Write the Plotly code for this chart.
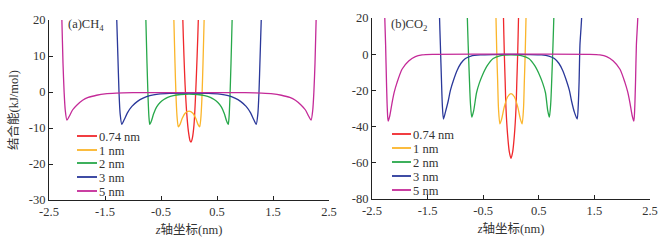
import plotly.graph_objects as go

W, H = 662, 241

# ---------------- data ----------------
series_names = ["0.74 nm", "1 nm", "2 nm", "3 nm", "5 nm"]
series_colors = ["#f0282c", "#fbb52a", "#27a84a", "#2a389a", "#c42a98"]

# (a) CH4 binding energy (kJ/mol) vs z (nm)
ch4_x_074 = [-0.13, -0.11, -0.09, -0.07, -0.04, -0.01, 0.02, 0.036, 0.06, 0.09, 0.12, 0.145, 0.166, 0.19]
ch4_y_074 = [40, 20, 10, 2, -6, -11, -13.6, -13.9, -12.8, -9, 0, 10, 20, 40]

ch4_x_1 = [-0.30, -0.27, -0.25, -0.23, -0.21, -0.19, -0.16, -0.12, -0.07, 0.0,
           0.07, 0.12, 0.16, 0.19, 0.21, 0.23, 0.25, 0.27, 0.30]
ch4_y_1 = [40, 20, 8, -2, -7.5, -9.7, -9.0, -7.3, -5.9, -5.3,
           -5.9, -7.3, -9.0, -9.7, -7.5, -2, 8, 20, 40]

ch4_x_2 = [-0.80, -0.77, -0.75, -0.73, -0.715, -0.70, -0.67, -0.63, -0.58, -0.52, -0.45, -0.38, -0.28, -0.15, 0.0,
           0.15, 0.28, 0.38, 0.45, 0.52, 0.58, 0.63, 0.67, 0.70, 0.715, 0.73, 0.75, 0.77, 0.80]
ch4_y_2 = [40, 20, 8, -2, -7, -9, -8, -6, -4.2, -3.0, -2.1, -1.5, -1.0, -0.7, -0.6,
           -0.7, -1.0, -1.5, -2.1, -3.0, -4.2, -6, -8, -9, -7, -2, 8, 20, 40]

ch4_x_3 = [-1.33, -1.29, -1.27, -1.25, -1.23, -1.20, -1.16, -1.10, -1.02, -0.92, -0.82, -0.70, -0.55, -0.35, 0.0,
           0.35, 0.55, 0.70, 0.82, 0.92, 1.02, 1.10, 1.16, 1.20, 1.23, 1.25, 1.27, 1.29, 1.33]
ch4_y_3 = [40, 20, 10, 0, -6, -9, -7.8, -5.8, -4.0, -2.6, -1.7, -1.0, -0.6, -0.4, -0.3,
           -0.4, -0.6, -1.0, -1.7, -2.6, -4.0, -5.8, -7.8, -9, -6, 0, 10, 20, 40]

ch4_x_5 = [-2.30, -2.27, -2.25, -2.23, -2.21, -2.18, -2.14, -2.08, -2.00, -1.90, -1.80, -1.65, -1.50, -1.30, -1.00, 0.0,
           1.00, 1.30, 1.50, 1.65, 1.80, 1.90, 2.00, 2.08, 2.14, 2.18, 2.21, 2.23, 2.25, 2.27, 2.30]
ch4_y_5 = [35, 20, 8, 0, -5, -7.8, -6.8, -5.0, -3.6, -2.3, -1.5, -0.9, -0.5, -0.3, -0.2, -0.15,
           -0.2, -0.3, -0.5, -0.9, -1.5, -2.3, -3.6, -5.0, -6.8, -7.8, -5, 0, 8, 20, 35]

# (b) CO2 binding energy (kJ/mol) vs z (nm)
co2_x_074 = [-0.16, -0.135, -0.12, -0.105, -0.09, -0.06, -0.03, 0.0, 0.03, 0.06, 0.09, 0.105, 0.12, 0.135, 0.16]
co2_y_074 = [60, 20, 0, -15, -30, -45, -54, -57.5, -54, -45, -30, -15, 0, 20, 60]

co2_x_1 = [-0.30, -0.27, -0.255, -0.24, -0.225, -0.20, -0.17, -0.12, -0.06, 0.0,
           0.06, 0.12, 0.17, 0.20, 0.225, 0.24, 0.255, 0.27, 0.30]
co2_y_1 = [60, 20, 0, -15, -30, -38.5, -36, -29, -23.5, -21.8,
           -23.5, -29, -36, -38.5, -30, -15, 0, 20, 60]

co2_x_2 = [-0.81, -0.785, -0.77, -0.75, -0.73, -0.705, -0.67, -0.62, -0.57, -0.52, -0.43, -0.32, -0.20, 0.0,
           0.20, 0.32, 0.43, 0.52, 0.57, 0.62, 0.66, 0.69, 0.715, 0.735, 0.755, 0.77, 0.80]
co2_y_2 = [60, 20, 5, -12, -27, -34.8, -31, -21.3, -16, -12, -6.5, -2.4, -0.9, -0.4,
           -0.9, -2.4, -6.5, -12, -16, -21.3, -31, -34.8, -27, -12, 5, 20, 60]

co2_x_3 = [-1.31, -1.285, -1.27, -1.25, -1.235, -1.215, -1.18, -1.13, -1.09, -1.03, -0.97, -0.90, -0.82, -0.72, -0.55, -0.30, 0.0,
           0.30, 0.55, 0.68, 0.78, 0.86, 0.93, 0.99, 1.05, 1.09, 1.14, 1.19, 1.21, 1.225, 1.24, 1.27, 1.30]
co2_y_3 = [60, 20, 5, -15, -28, -35.8, -32, -26, -20, -14, -9, -5, -2.4, -1.0, -0.4, -0.2, -0.1,
           -0.2, -0.4, -1.0, -2.4, -5, -9, -14, -20, -26, -32, -35.8, -28, -15, 5, 20, 60]

co2_x_5 = [-2.30, -2.27, -2.255, -2.24, -2.225, -2.21, -2.18, -2.14, -2.10, -2.05, -1.96, -1.84, -1.72, -1.60, -1.40, 0.0,
           1.40, 1.60, 1.72, 1.84, 1.96, 2.05, 2.10, 2.14, 2.18, 2.21, 2.225, 2.24, 2.255, 2.28, 2.31]
co2_y_5 = [60, 20, 5, -15, -30, -37, -34, -27, -21, -15.7, -8.3, -3.7, -1.3, -0.4, -0.1, 0.0,
           -0.1, -0.4, -1.3, -3.7, -8.3, -15.7, -21, -27, -34, -37, -30, -15, 5, 20, 60]

x_tickvals = [-2.5, -1.5, -0.5, 0.5, 1.5, 2.5]
x_ticktext = ["-2.5", "-1.5", "-0.5", "0.5", "1.5", "2.5"]
ya_tickvals = [-30, -20, -10, 0, 10, 20]
ya_ticktext = ["-30", "-20", "-10", "0", "10", "20"]
yb_tickvals = [-80, -60, -40, -20, 0, 20]
yb_ticktext = ["-80", "-60", "-40", "-20", "0", "20"]

ch4_series = [(ch4_x_074, ch4_y_074), (ch4_x_1, ch4_y_1), (ch4_x_2, ch4_y_2), (ch4_x_3, ch4_y_3), (ch4_x_5, ch4_y_5)]
co2_series = [(co2_x_074, co2_y_074), (co2_x_1, co2_y_1), (co2_x_2, co2_y_2), (co2_x_3, co2_y_3), (co2_x_5, co2_y_5)]

# ---------------- figure ----------------
FONT = "'Liberation Serif', 'Times New Roman', 'Noto Sans CJK SC', serif"
TXT = "#333333"

def px(x):
    return x / W

def py(y):
    return 1 - y / H

fig = go.Figure()
for (xs, ys), name, col in zip(ch4_series, series_names, series_colors):
    fig.add_trace(go.Scatter(x=xs, y=ys, mode="lines", name=name, showlegend=False,
                             line=dict(color=col, width=1.3, shape="spline", smoothing=0.7),
                             xaxis="x", yaxis="y"))
for (xs, ys), name, col in zip(co2_series, series_names, series_colors):
    fig.add_trace(go.Scatter(x=xs, y=ys, mode="lines", name=name, showlegend=False,
                             line=dict(color=col, width=1.3, shape="spline", smoothing=0.7),
                             xaxis="x2", yaxis="y2"))

axis_common = dict(showline=True, linecolor="#222222", linewidth=1, ticks="inside", ticklen=4,
                   tickcolor="#222222", showgrid=False, zeroline=False, automargin=False,
                   tickfont=dict(family=FONT, size=12.5, color=TXT))

xtitle = dict(text="<i>z</i>轴坐标(nm)", font=dict(family=FONT, size=12.5, color=TXT), standoff=7)

fig.update_layout(
    template="none",
    width=W, height=H,
    margin=dict(l=0, r=0, t=0, b=0, autoexpand=False),
    paper_bgcolor="white", plot_bgcolor="white",
    showlegend=False,
    font=dict(family=FONT, size=12.5, color=TXT),
    xaxis=dict(domain=[px(49), px(329)], range=[-2.5, 2.5], anchor="y",
               tickvals=x_tickvals, ticktext=x_ticktext, title=xtitle, **axis_common),
    yaxis=dict(domain=[py(200), py(20)], range=[-30, 20], anchor="x",
               tickvals=ya_tickvals, ticktext=ya_ticktext,
               title=dict(text="结合能(kJ/mol)", font=dict(family=FONT, size=12.5, color=TXT), standoff=7),
               **axis_common),
    xaxis2=dict(domain=[px(372), px(650)], range=[-2.5, 2.5], anchor="y2",
                tickvals=x_tickvals, ticktext=x_ticktext, title=xtitle, **axis_common),
    yaxis2=dict(domain=[py(199), py(18)], range=[-80, 20], anchor="x2",
                tickvals=yb_tickvals, ticktext=yb_ticktext, **axis_common),
)

# panel labels
fig.add_annotation(x=px(66), y=py(25), xref="paper", yref="paper", xanchor="left", yanchor="middle",
                   text="(a)CH<sub>4</sub>", showarrow=False, font=dict(family=FONT, size=12.5, color=TXT))
fig.add_annotation(x=px(389), y=py(25), xref="paper", yref="paper", xanchor="left", yanchor="middle",
                   text="(b)CO<sub>2</sub>", showarrow=False, font=dict(family=FONT, size=12.5, color=TXT))

# legends (drawn compactly, as in the original)
leg_a_y = [136, 150, 163, 177, 191]
leg_b_y = [134, 148, 162, 176, 190]
for (lx0, lx1, ys) in [(77, 97, leg_a_y), (392, 411, leg_b_y)]:
    for name, col, yy in zip(series_names, series_colors, ys):
        fig.add_shape(type="line", xref="paper", yref="paper", x0=px(lx0), x1=px(lx1), y0=py(yy), y1=py(yy),
                      line=dict(color=col, width=1.8))
        fig.add_annotation(x=px(lx1 + 1), y=py(yy), xref="paper", yref="paper", xanchor="left", yanchor="middle",
                           text=name, showarrow=False, height=13, borderpad=0,
                           font=dict(family=FONT, size=12.5, color=TXT))

fig.write_html("out.html", config={"displayModeBar": False},
               post_script="document.body.style.margin='0';")
